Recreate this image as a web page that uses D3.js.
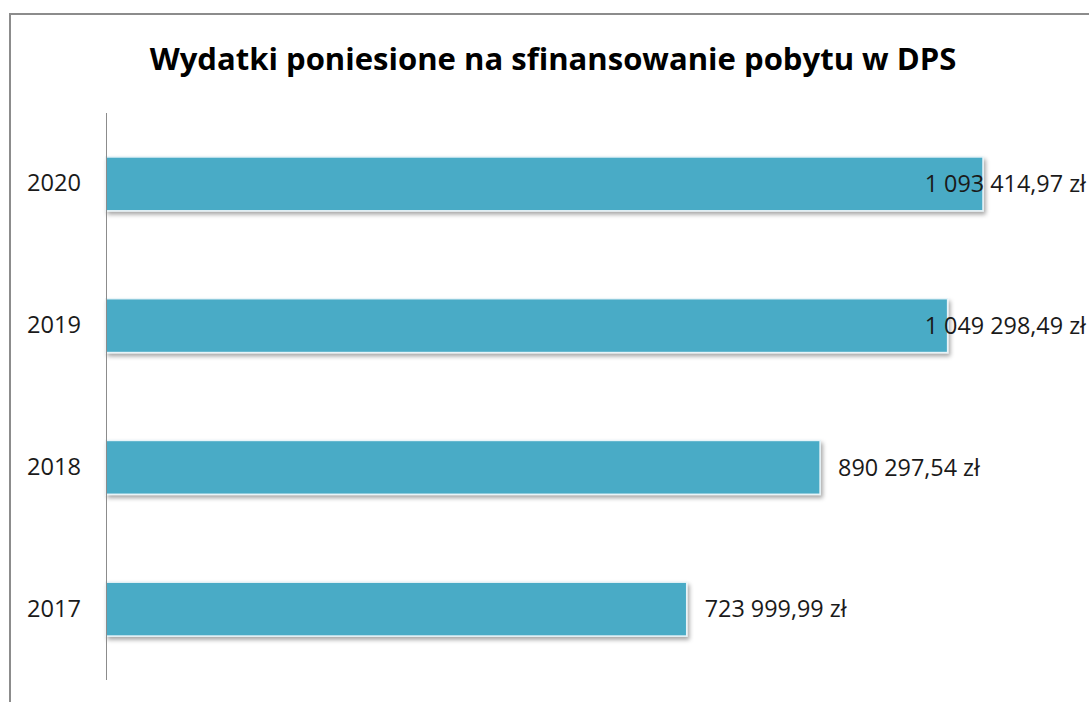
<!DOCTYPE html>
<html>
<head>
<meta charset="utf-8">
<script src="https://cdn.jsdelivr.net/npm/d3@7"></script>
<style>
  body { margin: 0; background: #fff; }
  svg { display: block; }
</style>
</head>
<body>
<script>
const years = ["2020", "2019", "2018", "2017"];
const values = [1093414.97, 1049298.49, 890297.54, 723999.99];
const valueLabels = ["1 093 414,97 zł", "1 049 298,49 zł", "890 297,54 zł", "723 999,99 zł"];
const title = "Wydatki poniesione na sfinansowanie pobytu w DPS";

const width = 1089;
const height = 702;
const font = "'Open Sans', 'Noto Sans', sans-serif";

const svg = d3.select("body").append("svg")
  .attr("width", width)
  .attr("height", height);

// shadow under bars
const defs = svg.append("defs");
defs.append("filter")
  .attr("id", "shadow")
  .attr("x", "-5%").attr("y", "-20%")
  .attr("width", "110%").attr("height", "160%")
  .append("feDropShadow")
  .attr("dx", 2).attr("dy", 3)
  .attr("stdDeviation", 2)
  .attr("flood-color", "#000")
  .attr("flood-opacity", 0.35);

// outer frame
svg.append("rect")
  .attr("x", 10).attr("y", 14)
  .attr("width", width + 20).attr("height", height + 20)
  .attr("fill", "none")
  .attr("stroke", "#8c8c8c")
  .attr("stroke-width", 2);

// measure a string at a given size, to fit fonts to the reference widths
function fitSize(str, target, weight) {
  const t = svg.append("text")
    .attr("font-family", font)
    .attr("font-weight", weight || "normal")
    .attr("font-size", 20)
    .text(str);
  const w = t.node().getComputedTextLength();
  t.remove();
  return 20 * target / w;
}

const titleSize = fitSize(title, 807, "bold");
const yearSize = fitSize("2020", 54);
const valueSize = fitSize("723 999,99 zł", 142);

svg.append("text")
  .attr("x", 553).attr("y", 70)
  .attr("text-anchor", "middle")
  .attr("font-family", font)
  .attr("font-weight", "bold")
  .attr("font-size", titleSize)
  .attr("fill", "#000")
  .text(title);

const x = d3.scaleLinear()
  .domain([0, 1200000])
  .range([106, 1068.5]);

const y = d3.scaleBand()
  .domain(years)
  .range([113, 680])
  .paddingInner(0.62)
  .paddingOuter(0.31);

// bars
svg.selectAll("rect.bar")
  .data(values)
  .enter()
    .append("rect")
    .attr("class", "bar")
    .attr("x", x(0))
    .attr("y", function (d, i) { return y(years[i]); })
    .attr("width", function (d) { return x(d) - x(0); })
    .attr("height", y.bandwidth())
    .attr("fill", "#4aabc6")
    .attr("stroke", "#e8f4f8")
    .attr("stroke-width", 1.5)
    .attr("filter", "url(#shadow)");

// category axis
const yAxis = svg.append("g")
  .attr("transform", "translate(" + x(0) + ",0)")
  .call(d3.axisLeft(y).tickSize(0).tickPadding(25));
yAxis.select(".domain")
  .attr("stroke", "#8c8c8c")
  .attr("d", "M0.5,113V680");
yAxis.selectAll("text")
  .attr("font-family", font)
  .attr("font-size", yearSize)
  .attr("fill", "#1a1a1a");

// value labels, pushed back inside when they would run off the right
svg.selectAll("text.value")
  .data(values)
  .enter()
    .append("text")
    .attr("class", "value")
    .attr("y", function (d, i) { return y(years[i]) + y.bandwidth() / 2; })
    .attr("dy", "0.35em")
    .attr("font-family", font)
    .attr("font-size", valueSize)
    .attr("fill", "#1a1a1a")
    .text(function (d, i) { return valueLabels[i]; })
    .attr("x", function (d) {
      const w = this.getComputedTextLength();
      return Math.min(x(d) + 18, 1086 - w);
    });
</script>
</body>
</html>
